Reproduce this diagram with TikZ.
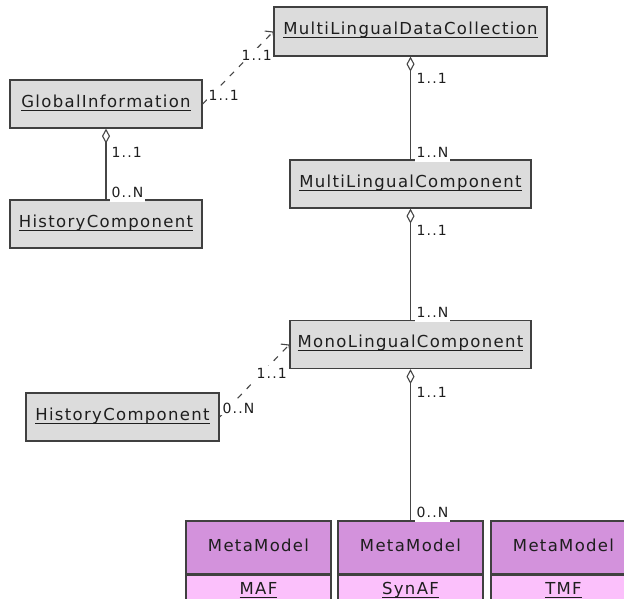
\documentclass[tikz,border=0pt]{standalone}
\usepackage{fontspec}
\setmainfont{DejaVu Sans}
\usetikzlibrary{arrows.meta}
\definecolor{boxgray}{RGB}{220,220,220}
\definecolor{boxedge}{RGB}{64,64,64}
\definecolor{linecol}{RGB}{70,70,70}
\definecolor{txtcol}{RGB}{30,30,30}
\definecolor{mmtop}{RGB}{211,146,220}
\definecolor{mmbot}{RGB}{251,192,251}
\newcommand\ulx[1]{\setbox0\hbox{#1}\rlap{\rule[-3.5pt]{\wd0}{0.9pt}}\box0}
\begin{document}
\begin{tikzpicture}[x=1pt,y=-1pt,
  cls/.style={draw=boxedge, line width=1.2pt, fill=boxgray, minimum height=48pt,
    inner sep=0pt, text=txtcol, text height=12pt, text depth=6pt,
    font=\fontsize{16.5}{18}\selectfont\addfontfeature{LetterSpace=8}},
  mmhead/.style={draw=boxedge, line width=1.2pt, fill=mmtop, minimum width=145pt,
    minimum height=53pt, inner sep=0pt, text=txtcol, text height=12pt, text depth=4pt,
    font=\fontsize{16.5}{18}\selectfont\addfontfeature{LetterSpace=8}},
  mmbody/.style={draw=boxedge, line width=1.2pt, fill=mmbot, minimum width=145pt,
    minimum height=30pt, inner sep=0pt, text=txtcol, text height=12pt, text depth=4pt,
    font=\fontsize{16.5}{18}\selectfont\addfontfeature{LetterSpace=8}},
  mult/.style={fill=white, inner sep=1.5pt, anchor=base west, text=txtcol,
    font=\fontsize{14}{16}\selectfont\addfontfeature{LetterSpace=8}},
  multn/.style={mult, text depth=3pt},
  agg/.style={draw=linecol, line width=1.1pt, {Diamond[open,length=15pt,width=8pt]}-},
  dep/.style={draw=linecol, line width=1.1pt, dash pattern=on 6pt off 7pt,
    -{Straight Barb[length=5pt,width=13pt]}}
]
\clip (0,0) rectangle (624,598);
\fill[white] (0,0) rectangle (624,598);

% class boxes
\node[cls, minimum width=273pt, minimum height=49pt] (mldc) at (410.5,31.5) {\ulx{MultiLingualDataCollection}};
\node[cls, minimum width=192pt] (gi) at (106,104) {\ulx{GlobalInformation}};
\node[cls, minimum width=192pt] (hca) at (106,224) {\ulx{HistoryComponent}};
\node[cls, minimum width=241pt] (mlc) at (410.5,184) {\ulx{MultiLingualComponent}};
\node[cls, minimum width=241pt] (mono) at (410.5,344.5) {\ulx{MonoLingualComponent}};
\node[cls, minimum width=193pt] (hcb) at (122.5,417) {\ulx{HistoryComponent}};

% metamodel boxes
\node[mmhead] (mafh) at (258.5,547.5) {MetaModel};
\node[mmbody, anchor=north] (maf) at (mafh.south) {\ulx{MAF}};
\node[mmhead] (synh) at (410.5,547.5) {MetaModel};
\node[mmbody, anchor=north] (syn) at (synh.south) {\ulx{SynAF}};
\node[mmhead] (tmfh) at (563.5,547.5) {MetaModel};
\node[mmbody, anchor=north] (tmf) at (tmfh.south) {\ulx{TMF}};

% aggregations
\draw[agg] (mldc.south) -- (mlc.north);
\draw[agg] (mlc.south) -- (mono.north);
\draw[agg] (mono.south) -- (synh.north);
\draw[agg] (gi.south) -- (hca.north);

% dependencies
\draw[dep] (gi.east) -- (mldc.west);
\draw[dep] (hcb.east) -- (mono.west);

% multiplicities
\node[mult] (m1) at (415,83) {1..1};
\node[multn] (m2) at (415,157) {1..N};
\node[mult] (m3) at (415,235) {1..1};
\node[multn] (m4) at (415,317) {1..N};
\node[mult] (m5) at (415,397) {1..1};
\node[multn] (m6) at (415,517) {0..N};
\node[mult] (m7) at (110,157) {1..1};
\node[multn] (m8) at (110,197) {0..N};
\node[mult] (m9) at (240,60) {1..1};
\node[mult] (m10) at (207,100) {1..1};
\node[mult] (m11) at (255,378) {1..1};
\node[mult] (m12) at (221,413) {0..N};
\end{tikzpicture}
\end{document}
